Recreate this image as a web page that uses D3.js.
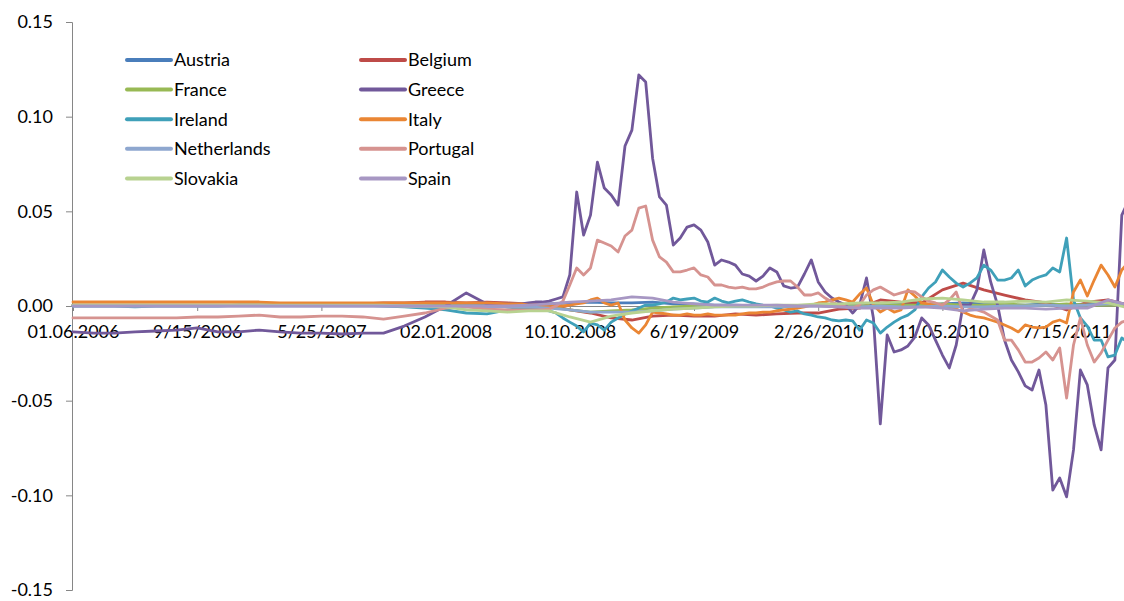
<!DOCTYPE html>
<html>
<head>
<meta charset="utf-8">
<script src="https://cdn.jsdelivr.net/npm/d3@7"></script>
<style>
  body { margin: 0; background: #fff; }
  svg { display: block; font-family: Lato, "Open Sans", sans-serif; }
</style>
</head>
<body>
<svg id="chart" width="1124" height="601"></svg>
<script>
// weekly observations, week 0 = 01.06.2006; a label every 36 weeks
const tickWeeks = [0, 36, 72, 108, 144, 180, 216, 252, 288];
const tickLabels = ['01.06.2006', '9/15/2006', '5/25/2007', '02.01.2008', '10.10.2008',
  '6/19/2009', '2/26/2010', '11.05.2010', '7/15/2011'];
const yTicks = [-0.15, -0.10, -0.05, 0, 0.05, 0.10, 0.15];

// sampling for the calm series: every 6 weeks
const weeksCoarse = d3.range(0, 307, 6);
// sampling for the volatile series: every 6 weeks until 2008, then every 2 weeks
const weeksFine = d3.range(0, 127, 6).concat(d3.range(128, 307, 2));

const countries = ['Austria', 'Belgium', 'France', 'Greece', 'Ireland', 'Italy',
  'Netherlands', 'Portugal', 'Slovakia', 'Spain'];
const colors = ['#4a7ebb', '#be4b48', '#98b954', '#71589a', '#3fa0b9', '#ea8634',
  '#8ea7cf', '#d69390', '#b8d290', '#a797c3'];

// calm series (weeksCoarse)
const austria = [0.0003, 0.0002, 0.0003, 0.0002, 0.0002, 0.0003, 0.0002, 0.0002, 0.0003, 0.0002,
  0.0002, 0.0003, 0.0002, 0.0002, 0.0003, 0.0002, 0.0003, 0.0002, 0.0003, 0.0002,
  0.0003, 0.0003, 0.0005, 0.0011, 0.0016, 0.0021, 0.0016, 0.0016, 0.0021, 0.0011,
  0.0011, 0.0005, 0.0005, 0.0000, 0.0000, 0.0000, 0.0005, 0.0005, 0.0000, 0.0005,
  0.0011, 0.0005, 0.0011, 0.0016, 0.0011, 0.0005, 0.0005, 0.0011, 0.0005, 0.0011,
  0.0016, 0.0011];
const belgium = [0.0005, 0.0005, 0.0005, 0.0005, 0.0005, 0.0005, 0.0005, 0.0005, 0.0005, 0.0005,
  0.0005, 0.0011, 0.0011, 0.0011, 0.0011, 0.0016, 0.0016, 0.0021, 0.0021, 0.0016,
  0.0021, 0.0016, 0.0011, 0.0005, -0.0021, -0.0037, -0.0063, -0.0074, -0.0053, -0.0048,
  -0.0053, -0.0053, -0.0042, -0.0048, -0.0042, -0.0037, -0.0037, -0.0016, -0.0011, 0.0032,
  0.0021, 0.0016, 0.0085, 0.0121, 0.0085, 0.0058, 0.0032, 0.0016, -0.0021, 0.0021,
  0.0032, 0.0005];
const france = [0.0005, 0.0005, 0.0005, 0.0005, 0.0005, 0.0005, 0.0005, 0.0005, 0.0005, 0.0005,
  0.0005, 0.0005, 0.0005, 0.0005, 0.0005, 0.0005, 0.0005, 0.0005, 0.0005, 0.0000,
  0.0000, 0.0000, 0.0000, -0.0005, -0.0021, -0.0032, -0.0026, -0.0021, -0.0011, -0.0005,
  0.0000, 0.0000, 0.0000, 0.0000, 0.0000, 0.0000, 0.0005, 0.0005, 0.0000, 0.0005,
  0.0005, 0.0005, 0.0011, 0.0005, 0.0005, 0.0011, 0.0005, 0.0005, 0.0011, 0.0005,
  0.0005, 0.0005];
const netherlands = [0.0000, 0.0000, 0.0000, 0.0000, 0.0000, 0.0000, 0.0000, 0.0000, 0.0000, 0.0000,
  0.0000, 0.0000, 0.0000, 0.0000, 0.0000, 0.0000, 0.0000, -0.0005, -0.0005, -0.0005,
  -0.0005, -0.0005, -0.0005, -0.0011, -0.0021, -0.0032, -0.0032, -0.0032, -0.0026, -0.0016,
  -0.0011, -0.0005, -0.0005, -0.0005, -0.0005, 0.0000, 0.0000, -0.0005, -0.0005, 0.0000,
  -0.0005, -0.0005, 0.0000, -0.0005, -0.0005, 0.0000, 0.0000, 0.0005, 0.0000, 0.0005,
  0.0011, 0.0011];
const slovakia = [0.0005, 0.0005, 0.0005, 0.0005, 0.0005, 0.0005, 0.0005, 0.0005, 0.0005, 0.0005,
  0.0005, 0.0005, 0.0005, 0.0005, 0.0005, 0.0005, 0.0000, 0.0000, -0.0005, -0.0021,
  -0.0026, -0.0032, -0.0026, -0.0026, -0.0058, -0.0085, -0.0053, -0.0037, -0.0026, -0.0016,
  -0.0011, -0.0005, 0.0000, 0.0000, 0.0005, 0.0005, 0.0011, 0.0011, 0.0016, 0.0016,
  0.0021, 0.0037, 0.0042, 0.0032, 0.0021, 0.0021, 0.0026, 0.0021, 0.0032, 0.0026,
  0.0016, -0.0011];
const spain = [0.0000, 0.0000, 0.0000, 0.0000, 0.0000, 0.0000, 0.0000, 0.0000, 0.0000, 0.0000,
  0.0000, 0.0000, 0.0000, 0.0000, 0.0000, 0.0000, 0.0000, 0.0000, 0.0000, 0.0000,
  0.0000, 0.0000, 0.0005, 0.0011, 0.0021, 0.0026, 0.0032, 0.0048, 0.0042, 0.0021,
  0.0011, 0.0005, 0.0005, 0.0005, 0.0005, 0.0000, 0.0000, -0.0005, -0.0011, -0.0011,
  -0.0011, -0.0005, -0.0011, -0.0026, -0.0016, -0.0011, -0.0011, -0.0016, -0.0011, -0.0011,
  0.0032, 0.0005];

// volatile series (weeksFine)
const greece = [-0.0137, -0.0143, -0.0143, -0.0137, -0.0132, -0.0127, -0.0116, -0.0137, -0.0137, -0.0127,
  -0.0137, -0.0143, -0.0143, -0.0148, -0.0143, -0.0143, -0.0106, -0.0058, 0.0000, 0.0069,
  0.0011, 0.0011,
  0.0011, 0.0011, 0.0016, 0.0021, 0.0021, 0.0026, 0.0037, 0.0048, 0.0164, 0.0602,
  0.0375, 0.0480, 0.0760, 0.0623, 0.0586, 0.0533, 0.0845, 0.0929, 0.1220, 0.1183,
  0.0781, 0.0576, 0.0533, 0.0322, 0.0359, 0.0417, 0.0428, 0.0401, 0.0338, 0.0216,
  0.0243, 0.0232, 0.0216, 0.0169, 0.0158, 0.0132, 0.0158, 0.0201, 0.0180, 0.0106,
  0.0095, 0.0100, 0.0169, 0.0243, 0.0127, 0.0074, 0.0042, 0.0021, 0.0005, -0.0037,
  0.0005, 0.0148, -0.0063, -0.0623, -0.0153, -0.0243, -0.0232, -0.0211, -0.0164, -0.0063,
  -0.0100, -0.0180, -0.0259, -0.0327, -0.0206, 0.0005, 0.0005, 0.0085, 0.0296, 0.0127,
  0.0005, -0.0180, -0.0285, -0.0348, -0.0422, -0.0444, -0.0338, -0.0523, -0.0972, -0.0908,
  -0.1008, -0.0760, -0.0338, -0.0417, -0.0628, -0.0760, -0.0327, -0.0285, 0.0480, 0.0560];
const ireland = [0.0000, 0.0000, 0.0000, -0.0005, 0.0000, 0.0000, 0.0000, 0.0000, 0.0005, 0.0005,
  0.0005, 0.0005, 0.0005, 0.0005, 0.0005, 0.0000, -0.0005, -0.0011, -0.0021, -0.0037,
  -0.0042, -0.0021,
  -0.0016, -0.0016, -0.0016, -0.0016, -0.0021, -0.0026, -0.0037, -0.0063, -0.0085, -0.0106,
  -0.0137, -0.0090, -0.0100, -0.0127, -0.0085, -0.0063, -0.0042, -0.0026, -0.0011, 0.0005,
  0.0005, 0.0011, 0.0021, 0.0042, 0.0032, 0.0037, 0.0042, 0.0026, 0.0021, 0.0042,
  0.0026, 0.0016, 0.0026, 0.0032, 0.0021, 0.0011, 0.0005, 0.0000, -0.0011, -0.0021,
  -0.0032, -0.0026, -0.0042, -0.0048, -0.0058, -0.0063, -0.0074, -0.0079, -0.0074, -0.0079,
  -0.0127, -0.0074, -0.0090, -0.0143, -0.0111, -0.0085, -0.0063, -0.0048, -0.0021, 0.0048,
  0.0095, 0.0127, 0.0190, 0.0153, 0.0121, 0.0100, 0.0121, 0.0148, 0.0216, 0.0190,
  0.0137, 0.0137, 0.0148, 0.0190, 0.0106, 0.0137, 0.0153, 0.0164, 0.0201, 0.0180,
  0.0359, 0.0032, -0.0063, -0.0106, -0.0180, -0.0180, -0.0269, -0.0259, -0.0169, -0.0195];
const italy = [0.0021, 0.0021, 0.0021, 0.0021, 0.0021, 0.0021, 0.0021, 0.0021, 0.0021, 0.0021,
  0.0016, 0.0016, 0.0016, 0.0016, 0.0016, 0.0016, 0.0016, 0.0016, 0.0016, 0.0016,
  0.0016, 0.0011,
  0.0011, 0.0011, 0.0005, 0.0005, 0.0000, -0.0005, 0.0000, 0.0000, 0.0005, 0.0011,
  0.0016, 0.0032, 0.0042, 0.0016, 0.0005, 0.0016, -0.0074, -0.0116, -0.0143, -0.0100,
  -0.0032, -0.0037, -0.0042, -0.0048, -0.0048, -0.0042, -0.0048, -0.0048, -0.0042, -0.0048,
  -0.0048, -0.0048, -0.0048, -0.0042, -0.0037, -0.0037, -0.0032, -0.0032, -0.0026, -0.0021,
  -0.0016, -0.0011, -0.0005, 0.0005, 0.0016, 0.0021, 0.0032, 0.0042, 0.0032, 0.0021,
  0.0063, 0.0095, 0.0005, -0.0032, -0.0011, -0.0032, -0.0021, 0.0085, 0.0053, 0.0016,
  0.0011, 0.0000, 0.0005, -0.0005, -0.0016, -0.0032, -0.0048, -0.0058, -0.0063, -0.0074,
  -0.0085, -0.0100, -0.0116, -0.0137, -0.0100, -0.0111, -0.0116, -0.0111, -0.0085, -0.0074,
  -0.0090, 0.0074, 0.0137, 0.0053, 0.0137, 0.0216, 0.0164, 0.0100, 0.0190, 0.0232];
const portugal = [-0.0063, -0.0063, -0.0063, -0.0063, -0.0063, -0.0063, -0.0058, -0.0058, -0.0053, -0.0048,
  -0.0058, -0.0058, -0.0053, -0.0053, -0.0058, -0.0069, -0.0053, -0.0037, -0.0011, -0.0005,
  -0.0016, -0.0021,
  -0.0021, -0.0021, -0.0021, -0.0021, -0.0021, -0.0016, 0.0000, 0.0026, 0.0111, 0.0201,
  0.0164, 0.0201, 0.0348, 0.0333, 0.0317, 0.0285, 0.0370, 0.0401, 0.0517, 0.0528,
  0.0348, 0.0259, 0.0232, 0.0180, 0.0180, 0.0190, 0.0201, 0.0164, 0.0153, 0.0111,
  0.0111, 0.0100, 0.0095, 0.0100, 0.0090, 0.0090, 0.0100, 0.0116, 0.0127, 0.0132,
  0.0132, 0.0100, 0.0058, 0.0058, 0.0069, 0.0042, 0.0021, 0.0005, -0.0005, -0.0011,
  0.0005, 0.0058, 0.0085, 0.0100, 0.0079, 0.0058, 0.0069, 0.0079, 0.0074, 0.0048,
  0.0026, 0.0016, 0.0005, 0.0032, 0.0074, -0.0032, -0.0016, -0.0021, -0.0032, -0.0053,
  -0.0074, -0.0180, -0.0180, -0.0232, -0.0296, -0.0296, -0.0275, -0.0243, -0.0285, -0.0222,
  -0.0486, -0.0206, -0.0063, -0.0206, -0.0296, -0.0248, -0.0180, -0.0116, -0.0085, -0.0074];

const seriesValues = [austria, belgium, france, greece, ireland, italy,
  netherlands, portugal, slovakia, spain];
const seriesWeeks = [weeksCoarse, weeksCoarse, weeksCoarse, weeksFine, weeksFine, weeksFine,
  weeksCoarse, weeksFine, weeksCoarse, weeksCoarse];

const series = countries.map((name, i) => ({
  name,
  color: colors[i],
  points: seriesValues[i].map((v, j) => [seriesWeeks[i][j], v])
}));

const width = 1124;
const height = 601;
const margin = {top: 22, left: 72, bottom: 11};

const x = d3.scaleLinear()
  .domain([0, 288])
  .range([73, 73 + 288 * 3.45]);

const y = d3.scaleLinear()
  .domain([-0.15, 0.15])
  .range([height - margin.bottom, margin.top]);

const svg = d3.select('#chart');

// y axis
svg.append('g')
  .attr('transform', `translate(${margin.left},0)`)
  .call(d3.axisLeft(y).tickValues(yTicks).tickSize(6).tickPadding(13)
    .tickFormat(d => d.toFixed(2)))
  .call(g => g.selectAll('.domain, .tick line').attr('stroke', '#868686'))
  .call(g => g.selectAll('.tick text').attr('font-size', 18).attr('fill', '#000')
    .attr('font-family', 'Lato, sans-serif'));

// x axis sits on zero
svg.append('g')
  .attr('transform', `translate(0,${y(0)})`)
  .call(d3.axisBottom(x).tickValues(tickWeeks).tickSize(5).tickPadding(14)
    .tickFormat((d, i) => tickLabels[i]))
  .call(g => g.select('.domain').attr('d', `M${margin.left},0.5H${width}`))
  .call(g => g.selectAll('.domain, .tick line').attr('stroke', '#868686'))
  .call(g => g.selectAll('.tick text').attr('font-size', 18).attr('fill', '#000')
    .attr('font-family', 'Lato, sans-serif'));

const line = d3.line()
  .x(d => x(d[0]))
  .y(d => y(d[1]));

svg.append('g')
  .attr('fill', 'none')
  .attr('stroke-width', 2.8)
  .attr('stroke-linejoin', 'round')
  .attr('stroke-linecap', 'round')
  .selectAll('path')
  .data(series)
  .join('path')
  .attr('stroke', d => d.color)
  .attr('d', d => line(d.points));

// legend, two columns of five
const legend = svg.append('g')
  .selectAll('g')
  .data(series)
  .join('g')
  .attr('transform', (d, i) => `translate(${i % 2 ? 361 : 127},${60 + Math.floor(i / 2) * 29.6})`);

legend.append('line')
  .attr('x1', 0).attr('x2', 44)
  .attr('stroke', d => d.color)
  .attr('stroke-width', 4)
  .attr('stroke-linecap', 'round');

legend.append('text')
  .attr('x', 47)
  .attr('dy', '0.35em')
  .attr('font-size', 18)
  .attr('fill', '#000')
  .text(d => d.name);
</script>
</body>
</html>
